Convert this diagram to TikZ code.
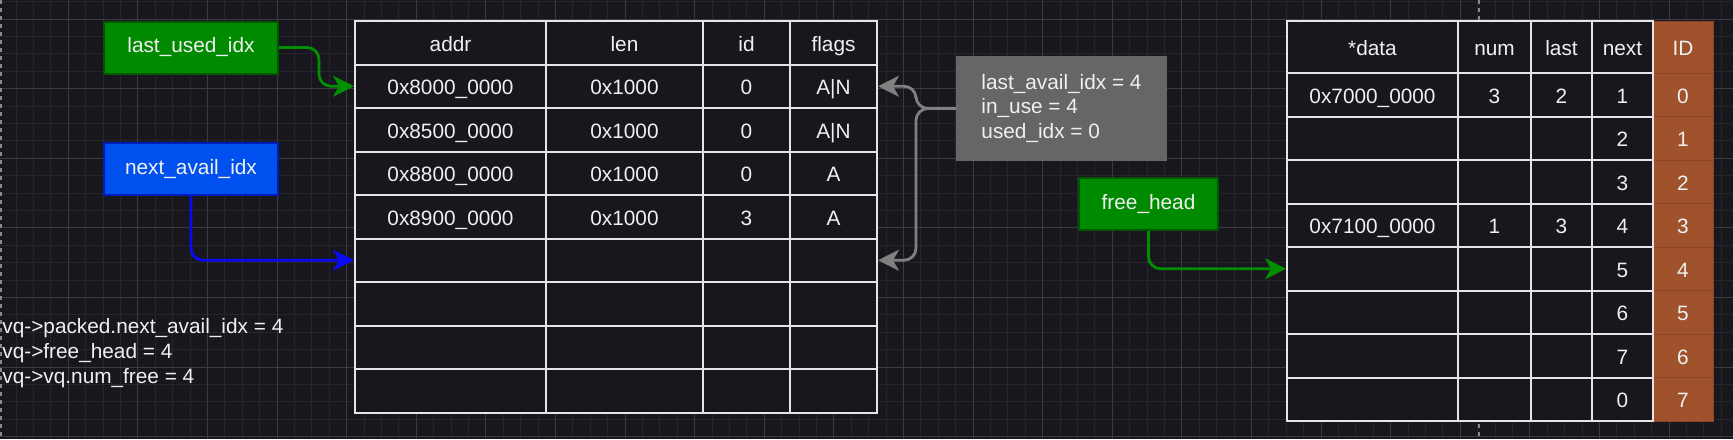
\documentclass[tikz,border=0pt]{standalone}
\usepackage{fontspec}
\setmainfont{Liberation Sans}
\usetikzlibrary{arrows.meta}

\definecolor{bgdark}{HTML}{18171E}
\definecolor{gridminor}{HTML}{26252C}
\definecolor{gridmajor}{HTML}{3C3B42}
\definecolor{pagegrey}{HTML}{8A8A8A}
\definecolor{txt}{HTML}{F0F0F0}
\definecolor{edge}{HTML}{E6E6E6}
\definecolor{idfill}{HTML}{A0522D}
\definecolor{idline}{HTML}{8A4626}
\definecolor{boxgreen}{HTML}{008A00}
\definecolor{boxgreenline}{HTML}{005700}
\definecolor{boxblue}{HTML}{0050EF}
\definecolor{boxblueline}{HTML}{001DBC}
\definecolor{infogrey}{HTML}{666666}
\definecolor{arrgreen}{HTML}{008F00}
\definecolor{arrblue}{HTML}{0A0AF5}
\definecolor{arrgrey}{HTML}{808080}

\begin{document}
\begin{tikzpicture}[x=0.5pt, y=-0.5pt,
    every node/.style={font=\fontsize{10.4}{12.4}\selectfont, text=txt},
    cell/.style={draw=edge, line width=1pt, fill=bgdark, minimum height=21.75pt,
        inner sep=0pt, text height=0.92em, text depth=0.06em},
    idcell/.style={cell, draw=idline, fill=idfill, line width=0.5pt},
    box/.style={draw, line width=1pt, minimum width=87pt, minimum height=26pt, inner sep=0pt},
    ptr/.style={line width=1.4pt, rounded corners=6pt,
        -{Stealth[length=10.5pt, width=10.5pt, inset=3pt]}},
    minorline/.style={draw=gridminor, line width=0.5pt},
    majorline/.style={draw=gridmajor, line width=0.5pt},
    pageline/.style={draw=pagegrey, line width=1pt, dash pattern=on 2pt off 2pt}]
    \useasboundingbox (0,0) rectangle (1733,439);
    \fill[bgdark] (0,0) rectangle (1733,439);

    % grid
    \foreach \i in {0,...,100} \draw[minorline] ({-1.3+17.4*\i},0) -- ({-1.3+17.4*\i},439);
    \foreach \j in {0,...,25} \draw[minorline] (0,{436.7-17.4*\j}) -- (1733,{436.7-17.4*\j});
    \foreach \i in {0,...,25} \draw[majorline] ({-1.3+69.6*\i},0) -- ({-1.3+69.6*\i},439);
    \foreach \j in {0,...,6} \draw[majorline] (0,{436.7-69.6*\j}) -- (1733,{436.7-69.6*\j});
    \draw[pageline] (1,0) -- (1,439);
    \draw[pageline] (1479,0) -- (1479,439);

    % descriptor table
    \foreach \vad/\vln/\vix/\vfl [count=\r from 0] in {addr/len/id/flags,
        0x8000\_0000/0x1000/0/A|N, 0x8500\_0000/0x1000/0/A|N,
        0x8800\_0000/0x1000/0/A, 0x8900\_0000/0x1000/3/A,
        {}/{}/{}/{}, {}/{}/{}/{}, {}/{}/{}/{}, {}/{}/{}/{}} {
        \node[cell, minimum width=95.5pt] (d-\r-1) at (450.5, 42.75+43.5*\r) {\vad};
        \node[cell, minimum width=78.5pt] (d-\r-2) at (624.5, 42.75+43.5*\r) {\vln};
        \node[cell, minimum width=43.5pt] (d-\r-3) at (746.5, 42.75+43.5*\r) {\vix};
        \node[cell, minimum width=43.5pt] (d-\r-4) at (833.5, 42.75+43.5*\r) {\vfl};
    }

    % state table
    \node[idcell, minimum width=30pt, minimum height=26pt] (s-0-5) at (1683,47) {ID};
    \node[cell, minimum width=85.5pt, minimum height=26pt] (s-0-1) at (1372.5,47) {*data};
    \node[cell, minimum width=36.5pt, minimum height=26pt] (s-0-2) at (1494.5,47) {num};
    \node[cell, minimum width=30.5pt, minimum height=26pt] (s-0-3) at (1561.5,47) {last};
    \node[cell, minimum width=30.5pt, minimum height=26pt] (s-0-4) at (1622.5,47) {next};
    \foreach \vda/\vnm/\vla/\vnx/\vid [count=\r] in {0x7000\_0000/3/2/1/0,
        {}/{}/{}/2/1, {}/{}/{}/3/2, 0x7100\_0000/1/3/4/3, {}/{}/{}/5/4,
        {}/{}/{}/6/5, {}/{}/{}/7/6, {}/{}/{}/0/7} {
        \node[idcell, minimum width=30pt] (s-\r-5) at (1683, 51.25+43.5*\r) {\vid};
        \node[cell, minimum width=85.5pt] (s-\r-1) at (1372.5, 51.25+43.5*\r) {\vda};
        \node[cell, minimum width=36.5pt] (s-\r-2) at (1494.5, 51.25+43.5*\r) {\vnm};
        \node[cell, minimum width=30.5pt] (s-\r-3) at (1561.5, 51.25+43.5*\r) {\vla};
        \node[cell, minimum width=30.5pt] (s-\r-4) at (1622.5, 51.25+43.5*\r) {\vnx};
    }

    % pointers
    \node[box, draw=boxgreenline, fill=boxgreen] (lu) at (191,47.5) {last\_used\_idx};
    \node[box, draw=boxblueline, fill=boxblue] (na) at (191,169) {next\_avail\_idx};
    \node[box, draw=boxgreenline, fill=boxgreen, minimum width=69.5pt] (fh) at (1148.5,204) {free\_head};
    \node[box, draw=infogrey, fill=infogrey, minimum width=104.5pt, minimum height=51.5pt,
        align=left] (info) at (1061.5,108.5) {last\_avail\_idx = 4\\in\_use = 4\\used\_idx = 0};
    \node[anchor=west, align=left, inner sep=0pt] (vq) at (2,353)
        {vq->packed.next\_avail\_idx = 4\\vq->free\_head = 4\\vq->vq.num\_free = 4};

    \draw[ptr, draw=arrgreen] (lu.east) -- ++(40,0) |- (d-1-1.west);
    \draw[ptr, draw=arrblue] (na.south) |- (d-5-1.west);
    \draw[ptr, draw=arrgrey] (info.west) -- ++(-40,0) |- (d-1-4.east);
    \draw[ptr, draw=arrgrey] (info.west) -- ++(-40,0) |- (d-5-4.east);
    \draw[ptr, draw=arrgreen] (fh.south) |- (s-5-1.west);
\end{tikzpicture}
\end{document}
